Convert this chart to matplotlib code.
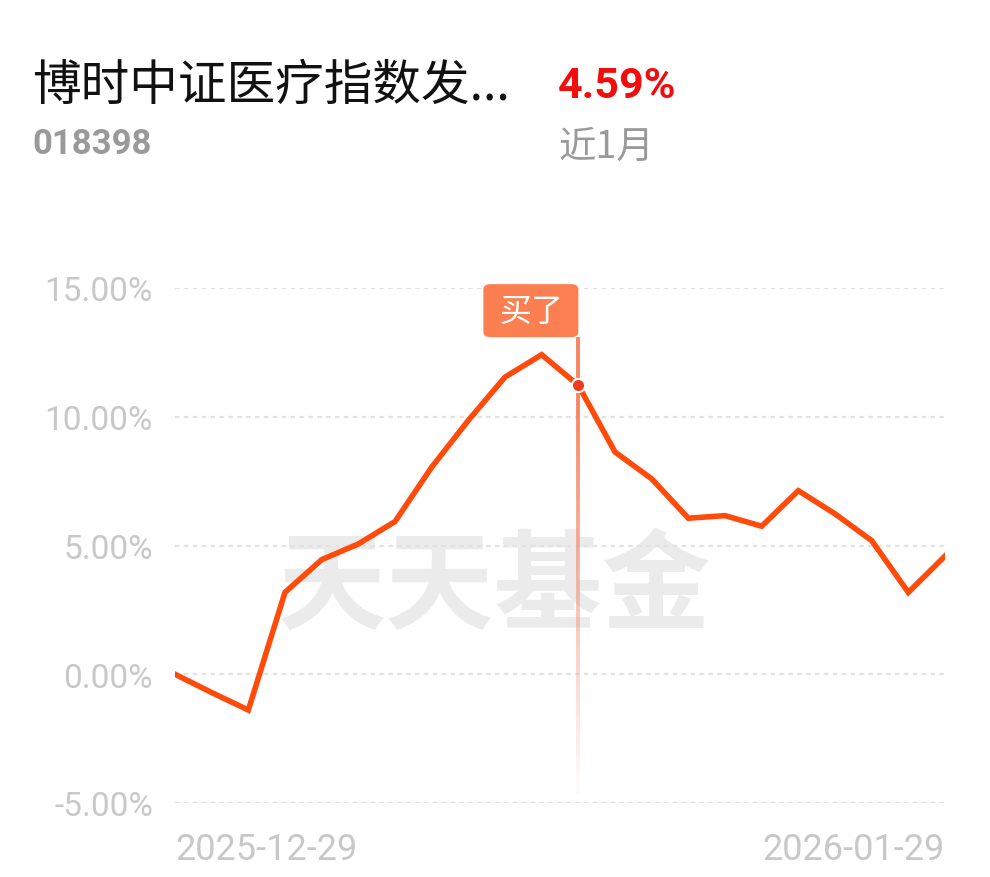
import numpy as np
import matplotlib.pyplot as plt
from matplotlib.patches import FancyBboxPatch
from matplotlib.collections import LineCollection

plt.rcParams['font.family'] = ['Noto Sans CJK SC', 'DejaVu Sans']

# 近1月收益率 (%)
returns = [0.00, -0.71, -1.39, 3.18, 4.45, 5.06, 5.93, 8.04, 9.86, 11.54, 12.41, 11.22,
           8.63, 7.59, 6.06, 6.16, 5.75, 7.13, 6.23, 5.19, 3.18, 4.59]
yticks = [-5, 0, 5, 10, 15]
date_labels = ['2025-12-29', '2026-01-29']
buy_idx = 11
fund_name = '博时中证医疗指数发...'
fund_code = '018398'
period_return = '4.59%'
period = '近1月'

W, H = 990, 878
fig = plt.figure(figsize=(W / 100, H / 100), dpi=100)
ax = fig.add_axes([175 / W, 1 - 804 / H, 770 / W, 515 / H])

x = np.arange(len(returns))
ax.plot(x, returns, color='#ff4a0a', lw=4.0, solid_joinstyle='miter', zorder=4)
ax.set_xlim(0, len(returns) - 1)
ax.set_ylim(-5, 15)

for t in yticks:
    ax.axhline(t, color='#e2e2e2', lw=1.6, ls=(0, (2, 2)), zorder=1)

ax.set_yticks(yticks, [f'{t:.2f}%' for t in yticks])
ax.set_xticks([0, len(returns) - 1], date_labels)
ax.tick_params(length=0, colors='#c8c8c8', labelsize=24)
ax.tick_params(axis='y', pad=16)
ax.tick_params(axis='x', pad=20, labelsize=26)
for lab in ax.get_yticklabels() + ax.get_xticklabels():
    lab.set_family(['Roboto', 'DejaVu Sans'])
xl = ax.get_xticklabels()
xl[0].set_ha('left')
xl[1].set_ha('right')
for s in ax.spines.values():
    s.set_visible(False)

# watermark
ax.text(0.4156, 0.4155, '天天基金', transform=ax.transAxes, ha='center', va='center',
        fontsize=78, fontweight='bold', color='#ebebeb', zorder=0)

# buy marker: fading vertical line
y_top, y_bot = 13.09, -4.66
ys = np.linspace(y_top, y_bot, 100)
segs = [[(buy_idx, ys[i]), (buy_idx, ys[i + 1])] for i in range(len(ys) - 1)]
alphas = np.clip(np.linspace(1.1, 0.02, len(segs)), 0, 0.95)
cols = [(0.96, 0.50, 0.36, a) for a in alphas]
ax.add_collection(LineCollection(segs, colors=cols, linewidths=2.8, zorder=3))

ax.plot(buy_idx, returns[buy_idx], 'o', ms=9.5, color='#f03c1e', mec='white', mew=1.5, zorder=6)

bw = 95 / 36.67
box = FancyBboxPatch((buy_idx - bw, y_top), bw, 2.06,
                     boxstyle='round,pad=0,rounding_size=0.2',
                     fc='#fc7f52', ec='none', clip_on=False, zorder=5)
ax.add_patch(box)
ax.text(buy_idx - bw / 2, y_top + 1.0, '买了', ha='center', va='center',
        color='white', fontsize=23, zorder=6, clip_on=False)

# header
fig.text(32 / W, 1 - 86 / H, fund_name, ha='left', va='center', fontsize=35, color='#111111')
fig.text(558 / W, 1 - 87 / H, period_return, ha='left', va='center', fontsize=31,
         fontweight='bold', color='#f20c0c', family=['Roboto', 'DejaVu Sans'])
fig.text(32 / W, 1 - 145 / H, fund_code, ha='left', va='center', fontsize=25,
         fontweight='bold', color='#9a9a9a', family=['Roboto', 'DejaVu Sans'])
fig.text(558 / W, 1 - 147 / H, period, ha='left', va='center', fontsize=27, color='#9a9a9a')

fig.savefig('out.png', dpi=100, facecolor='white')
